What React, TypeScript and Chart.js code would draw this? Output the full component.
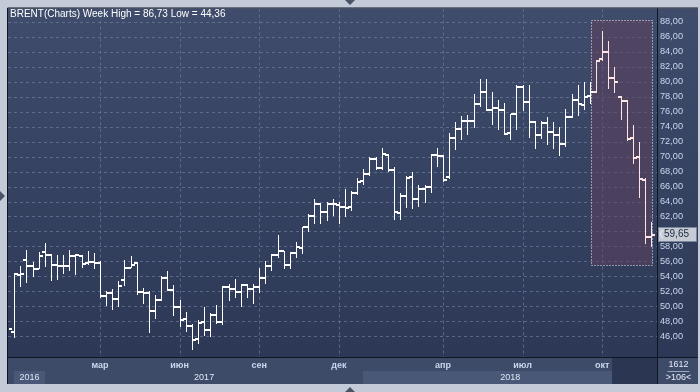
import React, { useEffect, useRef } from 'react';
import { Chart, registerables } from 'chart.js';

Chart.register(...registerables);

// ---- data (weekly OHLC, Brent) ----
const FIRST_WEEK_UTC = Date.UTC(2016, 10, 25); // week ending 2016-11-25
const opens = [
  46.9, 46.7, 54.3, 56.2, 55.4, 55.1, 57.3, 56.9, 55.6, 55.5,
  55.5, 56.75, 56.8, 55.9, 56.0, 55.8, 51.4, 51.9, 51.1, 53.6,
  55.2, 55.8, 52.0, 51.9, 49.5, 50.9, 53.9, 52.3, 50.0, 48.4,
  47.4, 45.7, 48.0, 46.9, 48.9, 48.0, 52.7, 52.4, 52.0, 52.9,
  52.4, 52.7, 53.9, 55.5, 56.9, 57.4, 55.6, 57.2, 57.9, 60.6,
  62.2, 63.7, 62.7, 63.8, 63.6, 63.4, 63.3, 65.2, 66.8, 67.7,
  69.8, 68.6, 70.3, 68.3, 62.6, 64.8, 67.3, 64.4, 65.7, 66.0,
  70.3, 70.2, 67.3, 72.5, 73.8, 74.8, 74.8, 77.1, 78.7, 76.3,
  76.6, 76.3, 73.15, 75.7, 79.3, 77.3, 74.7, 73.0, 74.5, 73.3,
  72.9, 71.7, 75.4, 77.6, 77.0, 78.1, 78.7, 83.1, 84.0, 80.6,
  78.0, 77.5, 72.6, 70.0, 67.0, 59.3,
];
const highs = [
  49.2, 54.5, 55.4, 57.5, 55.9, 57.2, 58.4, 57.0, 56.9, 56.8,
  57.5, 56.95, 56.9, 57.4, 57.1, 56.0, 52.0, 52.3, 53.4, 56.2,
  56.7, 55.9, 52.5, 52.1, 51.5, 54.0, 54.7, 52.8, 50.8, 49.2,
  47.7, 48.2, 49.9, 49.15, 50.2, 52.7, 53.0, 53.6, 53.0, 53.0,
  53.0, 55.1, 56.0, 57.0, 59.5, 57.4, 57.3, 58.6, 60.6, 62.3,
  64.4, 63.8, 64.0, 64.3, 64.0, 65.7, 65.4, 67.1, 68.3, 70.0,
  69.9, 71.2, 70.4, 68.6, 65.15, 67.4, 67.95, 66.2, 66.2, 70.4,
  71.1, 70.2, 73.1, 74.6, 75.4, 75.5, 78.4, 80.4, 80.4, 78.6,
  77.6, 77.1, 75.7, 79.6, 79.5, 79.5, 74.8, 74.8, 75.3, 74.6,
  73.95, 76.4, 78.4, 79.6, 79.95, 79.9, 82.9, 86.73, 85.4, 81.9,
  78.05, 77.55, 74.2, 71.95, 67.1, 61.3,
];
const lows = [
  46.6, 45.9, 52.7, 53.2, 54.0, 55.1, 55.4, 53.5, 53.7, 54.5,
  54.8, 54.3, 55.2, 55.7, 55.1, 51.2, 50.2, 49.7, 50.0, 52.8,
  55.2, 51.6, 50.5, 46.6, 48.4, 50.8, 52.2, 48.8, 47.4, 46.75,
  44.36, 45.1, 46.2, 46.1, 47.8, 47.7, 50.9, 51.3, 50.0, 51.2,
  50.5, 51.95, 53.1, 54.8, 56.6, 55.1, 55.1, 56.6, 57.1, 60.0,
  61.1, 61.1, 61.5, 62.2, 61.1, 62.0, 62.9, 65.0, 66.4, 67.6,
  68.4, 68.4, 68.1, 61.7, 61.7, 63.3, 63.2, 63.4, 63.9, 65.3,
  68.7, 66.75, 67.2, 71.0, 72.4, 73.0, 74.0, 76.7, 76.2, 74.4,
  73.7, 73.0, 72.4, 73.7, 76.2, 72.6, 71.1, 72.5, 71.7, 71.2,
  70.2, 71.4, 75.3, 75.5, 76.4, 77.2, 78.6, 82.9, 79.15, 78.6,
  75.0, 72.2, 69.1, 64.6, 58.4, 58.0,
];
const closes = [
  47.1, 54.4, 54.4, 55.4, 55.1, 56.8, 56.9, 55.6, 55.5, 55.5,
  56.8, 56.93, 55.7, 56.0, 55.8, 51.4, 51.9, 51.1, 52.8, 55.2,
  55.6, 52.0, 51.9, 49.5, 50.9, 53.9, 52.25, 50.0, 48.3, 47.4,
  45.6, 47.9, 46.9, 48.9, 48.0, 52.7, 52.4, 52.0, 52.9, 52.4,
  52.7, 53.9, 55.5, 56.9, 57.5, 55.6, 57.15, 57.95, 60.6, 62.2,
  63.7, 62.7, 63.8, 63.7, 63.4, 63.2, 65.15, 66.7, 67.7, 69.8,
  68.6, 70.4, 68.3, 62.7, 64.85, 67.2, 64.4, 65.7, 65.95, 70.3,
  70.2, 66.9, 72.5, 73.8, 74.85, 74.8, 77.1, 78.7, 76.3, 76.6,
  76.3, 73.1, 75.7, 79.3, 77.3, 74.75, 73.0, 74.5, 73.3, 73.0,
  71.7, 75.4, 77.6, 77.1, 78.0, 78.7, 82.8, 84.0, 80.6, 80.0,
  77.55, 72.4, 69.9, 67.05, 59.3, 59.65,
];
const weekDates = opens.map((_, i) => new Date(FIRST_WEEK_UTC + i * 7 * 86400000));
const monthTickDates = ['2017-03-10', '2017-06-09', '2017-09-08', '2017-12-08', '2018-04-06', '2018-07-06', '2018-10-05'];
const monthTickLabels = ['мар', 'июн', 'сен', 'дек', 'апр', 'июл', 'окт'];
const yTickValues = [46, 48, 50, 52, 54, 56, 58, 60, 62, 64, 66, 68, 70, 72, 74, 76, 78, 80, 82, 84, 86, 88];
const yearLabels = [2016, 2017, 2018];
const lastPrice = 59.65;
const selectionX = [95.15, 105.1];
const selectionY = [55.55, 88.27];
const seriesName = 'BRENT(Charts) Week';
const cornerTop = '1612';

// ---- helpers ----
const FONT = "'Liberation Sans', Arial, sans-serif";
const fmt = (v: number) => v.toFixed(2).replace('.', ',');
const isoDay = (d: Date) => d.toISOString().slice(0, 10);
const monthTickIndex = monthTickDates.map((d) => weekDates.findIndex((w) => isoDay(w) === d));
const LABEL_COLOR = '#cbd7ee';

const scenePlugin = {
  id: 'scene',
  beforeDraw(chart: any) {
    const { ctx, chartArea: a, scales } = chart;
    const x = scales.x;
    const W = chart.width;
    const H = chart.height;
    const rowTop = a.bottom + 1;
    const rowBottom = H - 8;
    const rightEdge = W - 2;
    ctx.save();
    ctx.fillStyle = '#c3cbd8';
    ctx.fillRect(0, 0, W, H);
    const g = ctx.createLinearGradient(0, a.top, 0, a.bottom);
    g.addColorStop(0, '#3f4c6b');
    g.addColorStop(1, '#2c3856');
    ctx.fillStyle = g;
    ctx.fillRect(a.left, a.top, rightEdge - a.left, a.bottom - a.top);
    ctx.fillStyle = '#3d4a68';
    ctx.fillRect(a.left, rowTop, rightEdge - a.left, rowBottom - rowTop);

    // year bands
    const starts = yearLabels.map((yr) => weekDates.findIndex((d) => d.getUTCFullYear() === yr));
    yearLabels.forEach((yr, k) => {
      const s = Math.max(x.getPixelForValue(starts[k]), a.left + 6);
      const e = k + 1 < starts.length ? x.getPixelForValue(starts[k + 1]) : a.right;
      if (k % 2 === 0) {
        ctx.fillStyle = '#4a5877';
        ctx.fillRect(Math.round(s), rowTop + 13, Math.round(e) - Math.round(s), rowBottom - rowTop - 13);
      }
      ctx.fillStyle = '#dfe7f5';
      ctx.font = `9px ${FONT}`;
      ctx.textAlign = 'center';
      ctx.textBaseline = 'middle';
      ctx.fillText(String(yr), (s + e) / 2, rowTop + 19.5);
    });
    // dark end box
    ctx.fillStyle = '#2b3652';
    ctx.fillRect(a.right - 45, rowTop, 45, rowBottom - rowTop);
    // corner box
    ctx.fillStyle = '#3d4a68';
    ctx.fillRect(a.right + 1, rowTop, rightEdge - a.right - 1, rowBottom - rowTop);
    ctx.fillStyle = '#e6ecf7';
    ctx.font = `9px ${FONT}`;
    ctx.textAlign = 'center';
    const cx = (a.right + rightEdge) / 2 + 1;
    ctx.fillText(cornerTop, cx, rowTop + 6.5);
    ctx.fillText(`>${opens.length}<`, cx, rowTop + 19.5);
    ctx.fillStyle = '#9aa8c2';
    ctx.fillRect(cx - 11, rowTop + 13, 22, 1);
    ctx.restore();
  },
  beforeDatasetsDraw(chart: any) {
    const { ctx, chartArea: a, scales } = chart;
    const x = scales.x;
    const y = scales.y;
    ctx.save();
    ctx.beginPath();
    ctx.rect(a.left, a.top, a.right - a.left, a.bottom - a.top);
    ctx.clip();
    ctx.strokeStyle = 'rgba(112,128,162,0.65)';
    ctx.lineWidth = 1;
    ctx.setLineDash([3, 3]);
    yTickValues.forEach((v) => {
      const py = Math.round(y.getPixelForValue(v)) + 0.5;
      ctx.beginPath();
      ctx.moveTo(a.left, py);
      ctx.lineTo(a.right, py);
      ctx.stroke();
    });
    monthTickIndex.forEach((v) => {
      const px = Math.round(x.getPixelForValue(v)) + 0.5;
      ctx.beginPath();
      ctx.moveTo(px, a.top);
      ctx.lineTo(px, a.bottom);
      ctx.stroke();
    });
    ctx.setLineDash([]);
    // selection fill
    const sx1 = Math.round(x.getPixelForValue(selectionX[0]));
    const sx2 = Math.round(x.getPixelForValue(selectionX[1]));
    const sy1 = Math.round(y.getPixelForValue(selectionY[1]));
    const sy2 = Math.round(y.getPixelForValue(selectionY[0]));
    ctx.fillStyle = 'rgba(98,64,92,0.5)';
    ctx.fillRect(sx1, sy1, sx2 - sx1, sy2 - sy1);
    ctx.restore();
  },
  afterDatasetsDraw(chart: any) {
    const { ctx, chartArea: a, scales } = chart;
    const x = scales.x;
    const y = scales.y;
    const W = chart.width;
    const H = chart.height;
    const meta = chart.getDatasetMeta(0);
    ctx.save();
    ctx.beginPath();
    ctx.rect(a.left + 1, a.top, a.right - a.left - 1, a.bottom - a.top);
    ctx.clip();
    meta.data.forEach((el: any, i: number) => {
      const px = Math.round(el.x);
      const top = Math.round(Math.min(el.y, el.base));
      const bot = Math.round(Math.max(el.y, el.base));
      const oy = Math.round(y.getPixelForValue(opens[i]) - 0.5);
      const cy = Math.round(y.getPixelForValue(closes[i]) - 0.5);
      const inSel = i >= selectionX[0] && i <= selectionX[1];
      ctx.fillStyle = inSel ? '#ffe4e4' : '#ffffff';
      ctx.fillRect(px, top, 1, bot - top + 1);
      ctx.fillRect(px - 3, oy, 3, 2);
      ctx.fillRect(px + 1, cy, 3, 2);
    });
    // selection border
    const sx1 = Math.round(x.getPixelForValue(selectionX[0])) + 0.5;
    const sx2 = Math.round(x.getPixelForValue(selectionX[1])) + 0.5;
    const sy1 = Math.round(y.getPixelForValue(selectionY[1])) + 0.5;
    const sy2 = Math.round(y.getPixelForValue(selectionY[0])) + 0.5;
    ctx.strokeStyle = '#f3ecf0';
    ctx.lineWidth = 1;
    ctx.setLineDash([1, 2]);
    ctx.strokeRect(sx1, sy1, sx2 - sx1, sy2 - sy1);
    ctx.setLineDash([]);
    ctx.restore();

    ctx.save();
    // title
    const hi = Math.max(...highs);
    const lo = Math.min(...lows);
    ctx.fillStyle = '#ffffff';
    ctx.font = `10px ${FONT}`;
    ctx.textAlign = 'left';
    ctx.textBaseline = 'middle';
    ctx.fillText(`${seriesName} High = ${fmt(hi)} Low = ${fmt(lo)}`, 10, 14.5);

    // frame lines
    ctx.strokeStyle = '#0f1522';
    ctx.lineWidth = 1;
    ctx.beginPath();
    ctx.moveTo(a.left - 0.5, a.top - 0.5);
    ctx.lineTo(W - 2, a.top - 0.5);
    ctx.moveTo(a.left - 0.5, a.top - 0.5);
    ctx.lineTo(a.left - 0.5, H - 8);
    ctx.moveTo(a.right + 0.5, a.top);
    ctx.lineTo(a.right + 0.5, H - 8);
    ctx.moveTo(a.left, a.bottom + 0.5);
    ctx.lineTo(W - 2, a.bottom + 0.5);
    ctx.stroke();

    // last price label
    const py = Math.round(y.getPixelForValue(lastPrice));
    const bx = a.right + 1;
    ctx.fillStyle = '#c6cbd4';
    ctx.fillRect(bx, py - 7, W - 3 - bx, 15);
    ctx.strokeStyle = '#7c889e';
    ctx.strokeRect(bx + 0.5, py - 6.5, W - 4 - bx, 14);
    ctx.strokeStyle = '#f4f6fa';
    ctx.beginPath();
    ctx.moveTo(bx + 5, py - 4);
    ctx.lineTo(bx + 2, py);
    ctx.lineTo(bx + 5, py + 4);
    ctx.stroke();
    ctx.fillStyle = '#1d2840';
    ctx.font = `10px ${FONT}`;
    ctx.textAlign = 'left';
    ctx.fillText(fmt(lastPrice), bx + 6, py + 0.5);

    // scroll triangles
    ctx.fillStyle = '#4a5466';
    ctx.beginPath();
    ctx.moveTo(345, 0); ctx.lineTo(355, 0); ctx.lineTo(350, 5); ctx.closePath();
    ctx.moveTo(345, H); ctx.lineTo(355, H); ctx.lineTo(350, H - 5); ctx.closePath();
    ctx.moveTo(0, 191); ctx.lineTo(0, 201); ctx.lineTo(5, 196); ctx.closePath();
    ctx.fill();
    ctx.restore();
  },
};

export default function App() {
  const ref = useRef<HTMLCanvasElement | null>(null);
  useEffect(() => {
    if (!ref.current) return;
    const chart = new Chart(ref.current, {
      type: 'bar',
      data: {
        datasets: [
          {
            label: seriesName,
            data: lows.map((l, i) => ({ x: i, y: [l, highs[i]] })) as any,
            backgroundColor: 'rgba(0,0,0,0)',
            borderWidth: 0,
            barThickness: 1,
            grouped: false,
          } as any,
        ],
      },
      options: {
        animation: false,
        responsive: false,
        devicePixelRatio: 1,
        events: [],
        layout: { padding: { left: 8, top: 8, right: 0, bottom: 8 } },
        plugins: { legend: { display: false }, tooltip: { enabled: false } },
        scales: {
          x: {
            type: 'linear',
            min: -0.0204,
            max: 105.94,
            offset: false,
            grid: { display: false, drawTicks: false },
            border: { display: false },
            afterBuildTicks: (s: any) => {
              s.ticks = monthTickIndex.map((v) => ({ value: v }));
            },
            afterFit: (s: any) => {
              s.height = 27;
            },
            ticks: {
              autoSkip: false,
              maxRotation: 0,
              padding: 3,
              color: LABEL_COLOR,
              font: { family: FONT, size: 9, weight: 'bold' },
              callback: (v: any) => {
                const k = monthTickIndex.indexOf(Number(v));
                return k >= 0 ? monthTickLabels[k] : '';
              },
            },
          },
          y: {
            type: 'linear',
            position: 'right',
            min: 43.24,
            max: 89.77,
            grid: { display: false, drawTicks: false },
            border: { display: false },
            afterBuildTicks: (s: any) => {
              s.ticks = yTickValues.map((v) => ({ value: v }));
            },
            afterFit: (s: any) => {
              s.width = 43;
            },
            ticks: {
              padding: 3,
              color: LABEL_COLOR,
              font: { family: FONT, size: 9.2 },
              callback: (v: any) => fmt(Number(v)),
            },
          },
        },
      } as any,
      plugins: [scenePlugin],
    });
    return () => chart.destroy();
  }, []);
  return (
    <div style={{ position: 'absolute', left: 0, top: 0, width: 700, height: 392 }}>
      <canvas ref={ref} width={700} height={392} style={{ display: 'block' }} />
    </div>
  );
}
